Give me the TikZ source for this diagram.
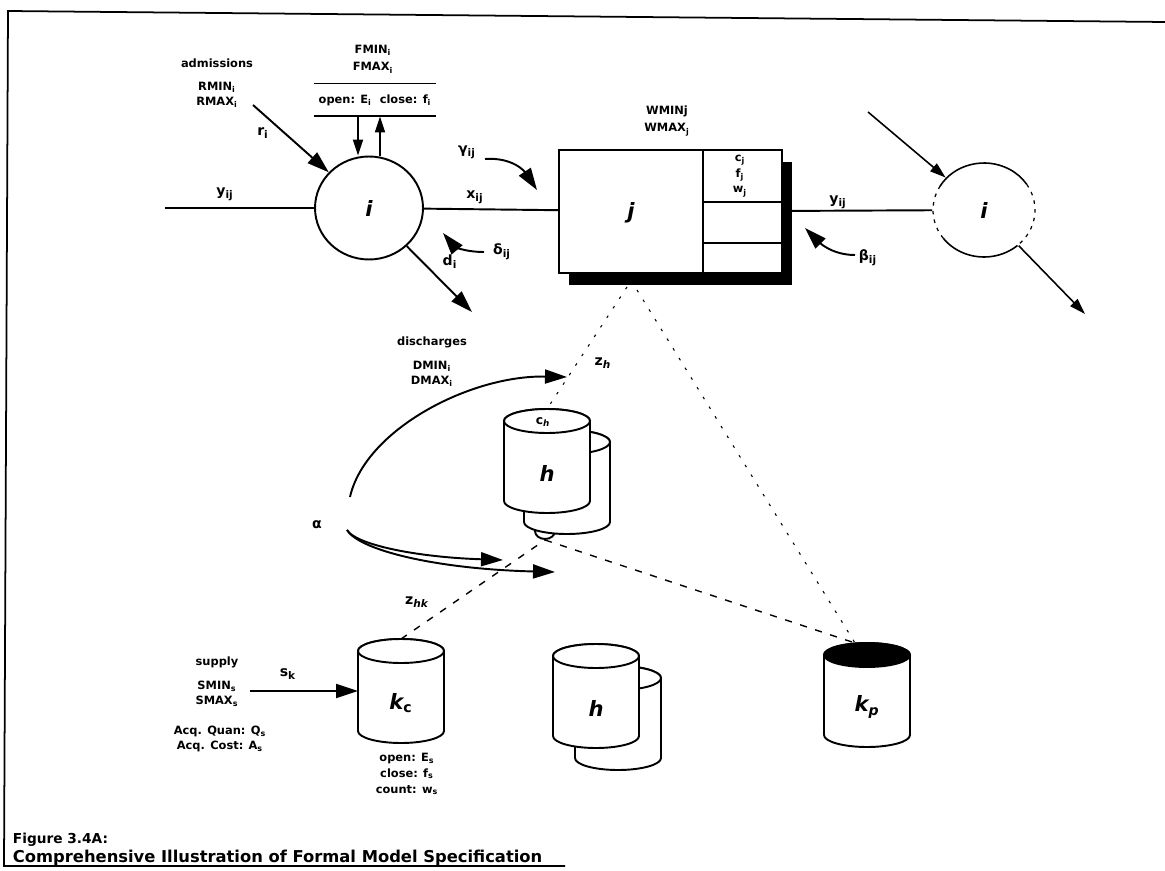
\documentclass[tikz,border=0pt]{standalone}
\usepackage{fontspec}
\setmainfont{DejaVu Sans}
\usetikzlibrary{arrows.meta,positioning,calc,shapes.geometric,shadows}
\newcommand{\sub}[1]{\textsubscript{#1}}
\newcommand{\drum}[5][white]{%
  \filldraw[fill=white] (#3-43,#4) -- (#3-43,#4+80) arc[start angle=180,end angle=0,x radius=43,y radius=12]
    -- (#3+43,#4) arc[start angle=0,end angle=-180,x radius=43,y radius=12] -- cycle;
  \filldraw[fill=#1] (#3,#4) ellipse[x radius=43,y radius=12];
  \coordinate (#2-t) at (#3,#4-12);
  \coordinate (#2-w) at (#3-43,#4+40);
  \node[letter] (#2) at (#3,#4+52) {#5};}
\begin{document}
\begin{tikzpicture}[x=0.02cm,y=-0.02cm,line width=1.1pt,
  every node/.style={font=\fontsize{6.5}{8.5}\selectfont\bfseries,inner sep=0pt,align=center},
  sym/.style={font=\fontsize{8}{9}\selectfont\bfseries},
  letter/.style={font=\fontsize{12}{12}\selectfont\bfseries\itshape},
  fat/.style={-{Triangle[length=4.4mm,width=2.8mm]}},
  slim/.style={-{Triangle[length=3.2mm,width=2mm]}},
  zdash/.style={line width=0.8pt,dash pattern=on 4pt off 5pt},
  zdot/.style={line width=0.6pt,dash pattern=on 1.5pt off 5pt}]
\useasboundingbox (0,0) rectangle (1165,871);
\draw[line width=1pt] (1165,22) -- (8,11) -- (4,866) -- (565,866);

\node[ellipse,draw,fill=white,minimum width=2.16cm,minimum height=2.06cm,letter] (i1) at (369,208) {i};
\node (adm) at (217,63) {admissions};
\node (rlim) at (217,95) {RMIN\sub{i}\\RMAX\sub{i}};
\node (flim) at (373,59) {FMIN\sub{i}\\[1.5pt]FMAX\sub{i}};
\node[minimum width=2.4cm,minimum height=0.62cm] (oc) at (375,100) {open: E\sub{i}\ \ close: f\sub{i}};
\draw (oc.north west) -- (oc.north east) (oc.south west) -- (oc.south east);
\coordinate (dn) at ($(oc.south)+(-17,0)$);
\coordinate (up) at ($(oc.south)+(5,0)$);
\draw[slim] (dn) -- (dn |- i1.north);
\draw[slim] (up |- i1.north) -- (up);
\coordinate (yin) at (165,208);
\draw (yin) -- (i1);
\node[sym] (ylab1) at (225,194) {y\sub{ij}};
\coordinate (rin) at (253,105);
\draw[fat] (rin) -- (i1);
\node[sym] (rlab) at (263,133) {r\sub{i}};
\coordinate (dout) at (472,312);
\draw[fat] (i1) -- (dout);
\node[sym] (dlab) at (450,262) {d\sub{i}};

\node[draw,fill=white,minimum width=4.46cm,minimum height=2.46cm,
  general shadow={fill=black,shadow xshift=0.2cm,shadow yshift=-0.24cm}] (j) at (670.5,211.5) {};
\draw (703,150) -- (703,273) (703,202) -- (782,202) (703,243) -- (782,243);
\node[letter] (jlab) at (631,213) {j};
\node[font=\fontsize{6.5}{9}\selectfont\bfseries] (cfw) at (740,176) {c\sub{j}\\f\sub{j}\\w\sub{j}};
\node[font=\fontsize{6.5}{9.5}\selectfont\bfseries] (wlim) at (667,121) {WMINj\\WMAX\sub{j}};
\draw (i1) -- (j);
\node[sym] (xlab) at (475,197) {x\sub{ij}};
\node[sym] (glab) at (467,152) {γ\sub{ij}};
\coordinate (g0) at (485,159); \coordinate (g1) at (537,190);
\draw[fat] (g0) .. controls +(28,-2) and +(-12,-18) .. (g1);
\node[sym] (dlt) at (502,252) {δ\sub{ij}};
\coordinate (d0) at (484,252); \coordinate (d1) at (443,233);
\draw[fat] (d0) .. controls +(-22,0) and +(10,12) .. (d1);

\node[ellipse,minimum width=2.04cm,minimum height=1.88cm,letter] (i2) at (984,210) {i};
\draw[line width=0.9pt] (i2.center) ++(210:51 and 47) arc[start angle=210,end angle=327,x radius=51,y radius=47];
\draw[line width=0.9pt] (i2.center) ++(49:51 and 47) arc[start angle=49,end angle=143,x radius=51,y radius=47];
\draw[line width=0.7pt,dash pattern=on 2pt off 3pt] (i2.center) ++(143:51 and 47) arc[start angle=143,end angle=210,x radius=51,y radius=47];
\draw[line width=0.7pt,dash pattern=on 2pt off 3pt] (i2.center) ++(327:51 and 47) arc[start angle=327,end angle=409,x radius=51,y radius=47];
\draw (j) -- (i2);
\node[sym] (ylab2) at (838,202) {y\sub{ij}};
\coordinate (in2) at (868,112);
\draw[slim,line width=0.9pt] (in2) -- (i2);
\coordinate (out2) at (1085,314);
\draw[slim,line width=0.9pt] (i2) -- (out2);
\node[sym] (blab) at (868,258) {β\sub{ij}};
\coordinate (b0) at (855,255); \coordinate (b1) at (805,228);
\draw[fat] (b0) .. controls +(-25,0) and +(12,12) .. (b1);

\node (dis) at (432,342) {discharges};
\node (dlim) at (432,374) {DMIN\sub{i}\\DMAX\sub{i}};
\coordinate (knob) at (545,540);
\draw (535,531) arc[start angle=180,end angle=0,x radius=10,y radius=8];
\drum{hb}{567}{442}{}
\drum{hf}{547}{421}{h}
\node[font=\fontsize{7}{8}\selectfont\bfseries] (ch) at (543,422) {c\sub{\itshape h}};
\coordinate (a0) at (350,497); \coordinate (a1) at (567,377);
\draw[fat] (a0) .. controls +(15,-67) and +(-97,-2) .. (a1);
\node[sym] (alab) at (317,525) {α};
\coordinate (al0) at (347,530);
\coordinate (al1) at (503,560); \coordinate (al2) at (555,572);
\draw[fat] (al0) .. controls +(8,14) and +(-90,-3) .. (al1);
\draw[fat] (al0) .. controls +(12,20) and +(-120,-3) .. (al2);
\node[sym] (zh) at (603,363) {z\sub{\itshape h}};
\node[sym] (zhk) at (417,602) {z\sub{\itshape hk}};

\drum{kc}{401}{651}{k\sub{\upshape c}}
\drum{mb}{618}{678}{}
\drum{mf}{596}{656}{h}
\drum[black]{kp}{867}{655}{k\sub{p}}
\draw[zdash] (kc-t) -- (knob);
\draw[zdash] (knob) -- ([xshift=-0.24cm]kp-t);
\coordinate (jb1) at (627,287); \coordinate (jb2) at (637,290);
\draw[zdot] (jb1) -- (hf-t);
\draw[zdot] (jb2) -- ([xshift=-0.24cm]kp-t);

\node (sup) at (217,662) {supply};
\node (slim) at (217,694) {SMIN\sub{s}\\SMAX\sub{s}};
\node (acq) at (220,739) {Acq. Quan: Q\sub{s}\\Acq. Cost: A\sub{s}};
\coordinate (sin) at (250,691);
\draw[fat] (sin) -- (kc-w);
\node[sym] (slab) at (288,674) {s\sub{k}};
\node[font=\fontsize{6.5}{9}\selectfont\bfseries] (kcnote) at (407,774) {open: E\sub{s}\\close: f\sub{s}\\count: w\sub{s}};

\node[anchor=west,font=\fontsize{7.8}{9}\selectfont\bfseries] (fig) at (12,840) {Figure 3.4A:};
\node[anchor=west,font=\fontsize{9.3}{11}\selectfont\bfseries] (cap) at (12,858) {Comprehensive Illustration of Formal Model Specification};
\end{tikzpicture}
\end{document}
